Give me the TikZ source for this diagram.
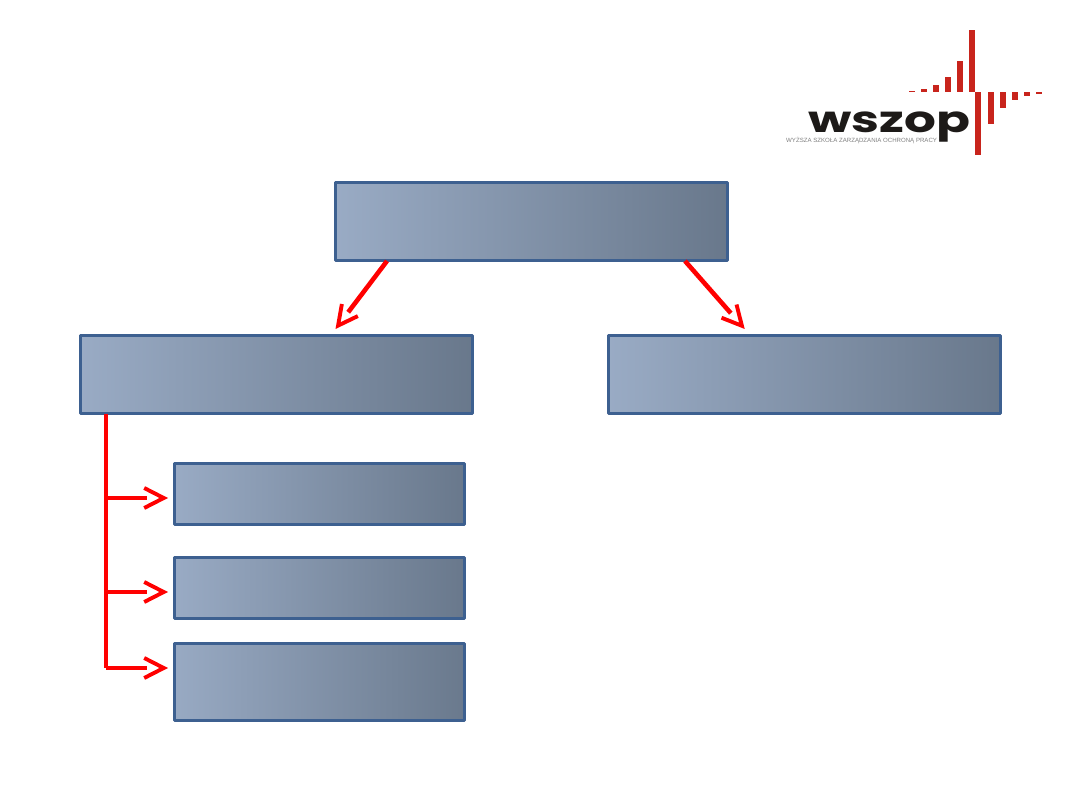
\documentclass[tikz,border=0pt]{standalone}
\usepackage{fontspec}
\setmainfont{Liberation Sans}
\newfontfamily\logofont{Poppins}
\usetikzlibrary{arrows.meta,calc}
\definecolor{boxedge}{HTML}{3D6090}
\definecolor{boxlight}{HTML}{9EB0CA}
\definecolor{boxdark}{HTML}{647386}
\definecolor{logored}{HTML}{C8241C}
\definecolor{logoblack}{HTML}{1D1A18}
\tikzset{
  panel/.style={outer sep=0pt,inner sep=0pt,anchor=north west},
  widepanel/.style={panel,minimum width=392pt,minimum height=78pt},
  subpanel/.style={panel,minimum width=290pt},
  gradientsquare/.style={rotate=-45,minimum size=#1,inner sep=0pt,left color=boxlight,right color=boxdark},
  panelrim/.style={draw=boxedge,line width=3pt,line join=round},
  shaft/.style={draw=red,line width=4.6pt,shorten >=21pt},
  barbs/.style={draw=red,line width=0.1pt,-{Straight Barb[length=19.5pt,width=20pt,line width=3.9pt]}},
  trunk/.style={draw=red,line width=4.6pt},
  bar/.style={fill=logored,draw=none},
}
\begin{document}
\begin{tikzpicture}[x=1pt,y=-1pt]
\useasboundingbox (0,0) rectangle (1080,810);
\fill[white] (0,0) rectangle (1080,810);

% boxes
\node[widepanel] (top) at (335,183) {};
\node[widepanel] (left) at (80,336) {};
\node[widepanel] (right) at (608,336) {};
\node[subpanel,minimum height=60pt] (subA) at (174,464) {};
\node[subpanel,minimum height=61pt] (subB) at (174,557) {};
\node[subpanel,minimum height=77pt] (subC) at (174,643) {};

% box fills run corner to corner: a rotated square carries the shading
\foreach \panelname/\side in {top/332pt,left/332pt,right/332pt,subA/247pt,subB/248pt,subC/259pt} {
  \begin{scope}
    \clip (\panelname.south west) rectangle (\panelname.north east);
    \node[gradientsquare=\side] at (\panelname.center) {};
  \end{scope}
  \draw[panelrim] (\panelname.south west) rectangle (\panelname.north east);
}

% connector ends
\coordinate (topL) at (387,261);
\coordinate (topR) at (685,261);
\coordinate (leftIn) at (335.5,329);
\coordinate (rightIn) at (744.7,329);
\coordinate (stem) at (106,414);
\coordinate (foot) at (106,668);
\coordinate (jA) at (106,498);
\coordinate (jB) at (106,592);
\coordinate (inA) at (168,498);
\coordinate (inB) at (168,592);
\coordinate (inC) at (168,668);

% trunk of the branching connector
\draw[trunk] (stem) -- (foot);

% every arrow: a shaft that stops at the barbs, then the open head
\foreach \from/\to in {topL/leftIn,topR/rightIn,jA/inA,jB/inB,foot/inC} {
  \draw[shaft] (\from) -- (\to);
  \draw[barbs] ($(\to)!2pt!(\from)$) -- (\to);
}

% logo: pulse bars
\fill[bar] (908.7,90.7) rectangle (914.7,92.3);
\fill[bar] (921,89) rectangle (927,92.3);
\fill[bar] (933,85) rectangle (939,92.3);
\fill[bar] (945,77.3) rectangle (951,92.3);
\fill[bar] (957.3,61.3) rectangle (963.3,92.3);
\fill[bar] (969.3,30) rectangle (975.3,92.3);
\fill[bar] (975.3,92.3) rectangle (981.3,155);
\fill[bar] (987.7,92.3) rectangle (993.7,123.7);
\fill[bar] (1000,92.3) rectangle (1005.7,108);
\fill[bar] (1012,92.3) rectangle (1018,100.3);
\fill[bar] (1024,92.3) rectangle (1030,96.3);
\fill[bar] (1036,92.3) rectangle (1042,93.7);

% logo: lettering
\node[anchor=base west,inner sep=0pt,text=logoblack,text depth=0pt,xscale=1.0,yscale=0.73,
  font=\logofont\bfseries\fontsize{50}{50}\selectfont] (logoword) at (808,133) {wszop};
\node[anchor=base west,inner sep=0pt,text=gray,font=\fontsize{6.1}{6.5}\selectfont] (logoline) at (786,143) {WYŻSZA SZKOŁA ZARZĄDZANIA OCHRONĄ PRACY};
\end{tikzpicture}
\end{document}
